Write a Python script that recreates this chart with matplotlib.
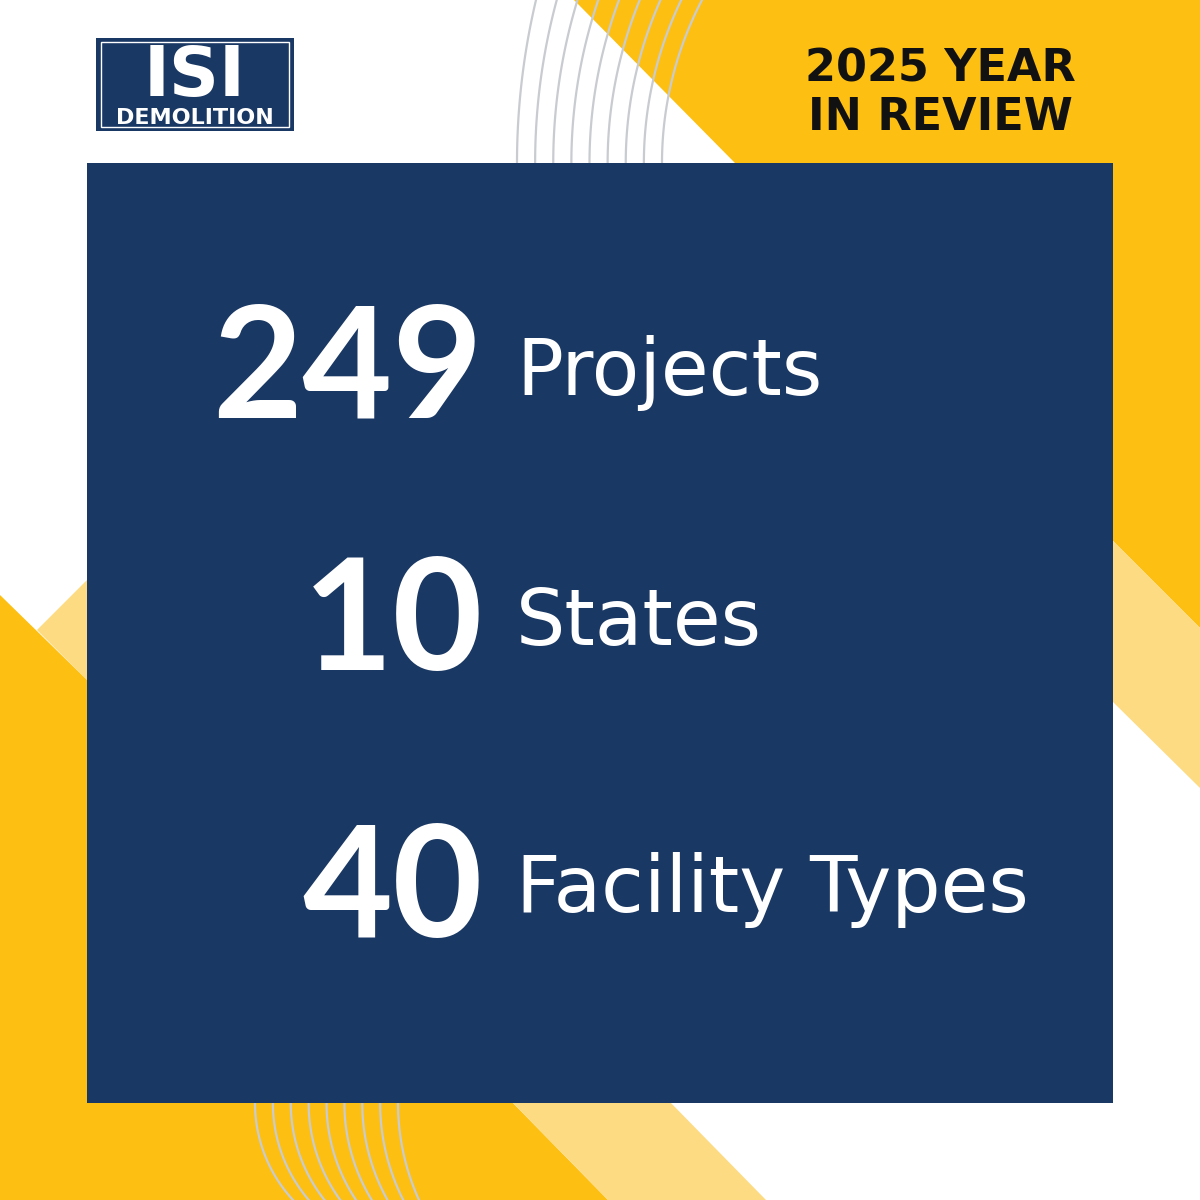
import matplotlib
matplotlib.use("Agg")
import matplotlib.pyplot as plt
from matplotlib.patches import Polygon, Rectangle
import numpy as np

counts = ["249", "10", "40"]
labels = ["Projects", "States", "Facility Types"]
title_lines = ["2025 YEAR", "IN REVIEW"]

NAVY = "#1a3864"
YEL = "#fdbf12"
LYEL = "#fddb83"
GRAY = "#c8cbd0"

fig = plt.figure(figsize=(12, 12), dpi=100)
ax = fig.add_axes([0, 0, 1, 1])
ax.set_xlim(0, 1200)
ax.set_ylim(1200, 0)
ax.axis("off")
fig.patch.set_facecolor("white")

def poly(pts, c, z=1):
    ax.add_patch(Polygon(pts, closed=True, fc=c, ec="none", zorder=z))

poly([(574, 0), (1200, 0), (1200, 628), (734, 162)], YEL)
poly([(1113, 541), (1200, 628), (1200, 788), (1113, 702)], LYEL)
poly([(37, 630), (87, 580), (87, 680)], LYEL)
poly([(0, 595), (87, 680), (87, 1200), (0, 1200)], YEL)
poly([(80, 1100), (510, 1100), (608, 1200), (80, 1200)], YEL)
poly([(510, 1100), (668, 1100), (766, 1200), (608, 1200)], LYEL)

n = 9
x163 = np.linspace(517, 662, n)
shifts = np.linspace(19, 40, n)
ys = np.linspace(0, 163, 100)
for x0, s in zip(x163, shifts):
    r = 163**2 / (2 * s) + s / 2
    cx = x0 + r
    xs = cx - np.sqrt(r**2 - (163 - ys) ** 2)
    ax.plot(xs, ys, color=GRAY, lw=1.6, zorder=2)
xb = np.linspace(255, 398, n)
shiftsb = np.linspace(38, 21, n)
ysb = np.linspace(1103, 1200, 100)
for x0, s in zip(xb, shiftsb):
    r = 97**2 / (2 * s) + s / 2
    cx = x0 + r
    xs = cx - np.sqrt(r**2 - (ysb - 1103) ** 2)
    ax.plot(xs, ysb, color=GRAY, lw=1.6, zorder=2)

ax.add_patch(Rectangle((87, 163), 1026, 940, fc=NAVY, ec="none", zorder=3))

# logo
ax.add_patch(Rectangle((96, 38), 198, 93, fc=NAVY, ec="none", zorder=3))
ax.add_patch(Rectangle((101, 42), 188, 85, fc="none", ec="white", lw=1.0, zorder=4))
ax.text(195, 96, "ISI", color="white", fontsize=50, fontweight="bold",
        family="Liberation Sans Narrow", ha="center", va="baseline", zorder=5)
ax.text(195, 124, "DEMOLITION", color="white", fontsize=16, fontweight="bold",
        family="Liberation Sans Narrow", ha="center", va="baseline", zorder=5)

for i, t in enumerate(title_lines):
    ax.text(940, 82 + i * 48, t, color="#111111", fontsize=32, fontweight="bold",
            family="DejaVu Sans", ha="center", va="baseline", zorder=5)

num_base = [417, 670, 937]
lab_base = [395, 645, 912]
for c, l, nb, lb in zip(counts, labels, num_base, lab_base):
    ax.text(483, nb, c, color="white", fontsize=112, fontweight="bold",
            family="Lato", ha="right", va="baseline", zorder=5)
    ax.text(516, lb, l, color="white", fontsize=56, family="DejaVu Sans",
            ha="left", va="baseline", zorder=5)

fig.savefig("out.png", dpi=100, facecolor="white")
